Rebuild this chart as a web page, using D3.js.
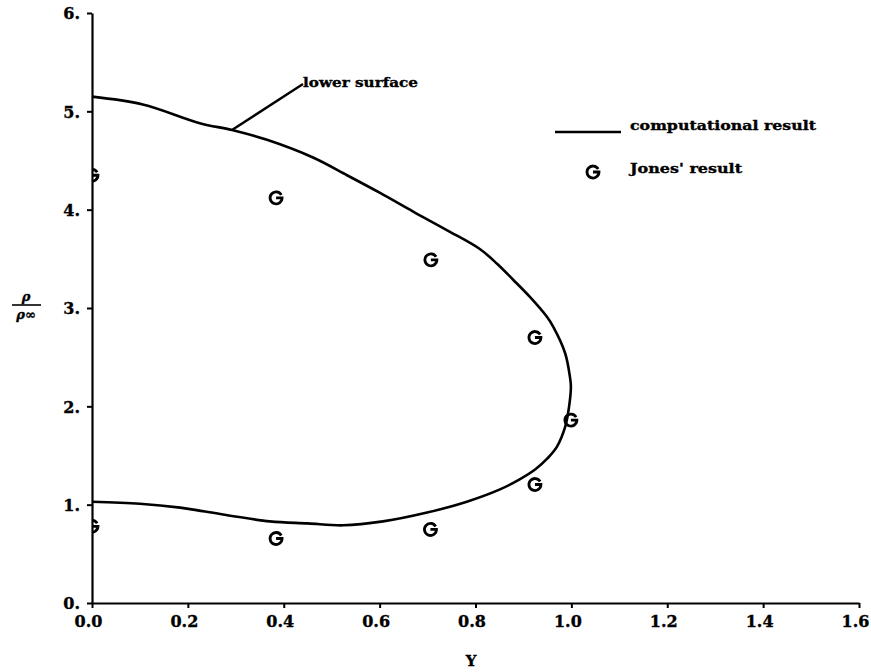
<!DOCTYPE html>
<html>
<head>
<meta charset="utf-8">
<script src="https://cdn.jsdelivr.net/npm/d3@7"></script>
<style>
  html, body { margin: 0; padding: 0; background: #fff; }
  svg { display: block; }
  text { font-family: "DejaVu Serif", "Liberation Serif", serif; font-weight: bold; fill: #000; stroke: #000; stroke-width: 0.35px; }
</style>
</head>
<body>
<svg id="chart" width="871" height="672"></svg>
<script>
// Computed density ratio along the surface (closed loop: upper branch, nose, lower branch)
const curveY   = [0.000, 0.106, 0.225, 0.292, 0.365, 0.461, 0.532, 0.601, 0.670, 0.741, 0.809, 0.845, 0.878, 0.914, 0.949, 0.962, 0.987, 0.997, 0.999, 0.995, 0.987, 0.970, 0.950, 0.925, 0.893, 0.851, 0.782, 0.699, 0.607, 0.524, 0.450, 0.371, 0.236, 0.184, 0.100, 0.000];
const curveRho = [5.15, 5.07, 4.88, 4.81, 4.71, 4.53, 4.35, 4.17, 3.98, 3.79, 3.60, 3.45, 3.29, 3.11, 2.91, 2.81, 2.54, 2.30, 2.20, 1.99, 1.79, 1.59, 1.47, 1.36, 1.26, 1.155, 1.03, 0.92, 0.83, 0.79, 0.81, 0.83, 0.93, 0.97, 1.01, 1.03];

// Jones' reference values
const jonesY   = [0.000, 0.384, 0.707, 0.924, 0.999, 0.924, 0.706, 0.384, 0.000];
const jonesRho = [4.35, 4.12, 3.49, 2.70, 1.86, 1.205, 0.748, 0.656, 0.78];

const xTicks = [0, 0.2, 0.4, 0.6, 0.8, 1.0, 1.2, 1.4, 1.6];
const yTicks = [0, 1, 2, 3, 4, 5, 6];

const svg = d3.select("#chart");
const x = d3.scaleLinear().domain([0, 1.6]).range([92, 859]);
const y = d3.scaleLinear().domain([0, 6]).range([603, 13]);

// Clip for the plot area so symbols on the axis show only their inner half
svg.append("defs").append("clipPath").attr("id", "plotClip")
  .append("rect").attr("x", x(0)).attr("y", 0).attr("width", 800).attr("height", 672);

// Axes
const xAxis = svg.append("g").attr("transform", `translate(0,${y(0)})`)
  .call(d3.axisBottom(x).tickValues(xTicks).tickFormat(d3.format(".1f")).tickSizeInner(5).tickSizeOuter(0).tickPadding(8));
const yAxis = svg.append("g").attr("transform", `translate(${x(0)},0)`)
  .call(d3.axisLeft(y).tickValues(yTicks).tickFormat(d => d + ".").tickSizeInner(5).tickSizeOuter(0).tickPadding(7));
[xAxis, yAxis].forEach(g => {
  g.select(".domain").attr("stroke", "#000").attr("stroke-width", 2.2);
  g.selectAll(".tick line").attr("stroke", "#000").attr("stroke-width", 2);
  g.selectAll(".tick text").attr("font-size", 16).attr("font-family", "DejaVu Serif").attr("font-weight", "bold").attr("fill", "#000");
});
xAxis.selectAll(".tick text").attr("dx", -4);
yAxis.selectAll(".tick text").attr("dy", "0.36em");

// Axis titles
svg.append("text").attr("x", 471).attr("y", 666)
  .attr("text-anchor", "middle").attr("font-size", 15).text("Y");

const yLab = svg.append("g").attr("transform", "translate(26,305)");
yLab.append("text").attr("x", 0).attr("y", -4).attr("text-anchor", "middle")
  .attr("font-size", 13).attr("font-style", "italic").text("ρ");
yLab.append("line").attr("x1", -14).attr("x2", 15).attr("y1", 0).attr("y2", 0)
  .attr("stroke", "#000").attr("stroke-width", 1.6);
yLab.append("text").attr("x", 0).attr("y", 14).attr("text-anchor", "middle")
  .attr("font-size", 13).attr("font-style", "italic").text("ρ∞");

// Computed curve
const pts = curveY.map((v, i) => [v, curveRho[i]]);
svg.append("path")
  .datum(pts)
  .attr("fill", "none").attr("stroke", "#000").attr("stroke-width", 2.6)
  .attr("stroke-linejoin", "round")
  .attr("d", d3.line().x(d => x(d[0])).y(d => y(d[1])).curve(d3.curveCatmullRom.alpha(0.5)));

// "G"-shaped symbol: open circle with a bar from the right edge to the centre
function gSymbol(cx, cy, r) {
  const a0 = -Math.PI / 6;
  const p = d3.path();
  p.moveTo(cx + r * Math.cos(a0), cy + r * Math.sin(a0));
  p.arc(cx, cy, r, a0, -2 * Math.PI, true);
  p.lineTo(cx, cy);
  return p.toString();
}

svg.append("g").attr("clip-path", "url(#plotClip)")
  .selectAll("path").data(jonesY.map((v, i) => [v, jonesRho[i]]))
  .join("path")
  .attr("d", d => gSymbol(x(d[0]), y(d[1]), 6))
  .attr("fill", "none").attr("stroke", "#000").attr("stroke-width", 2.8);

// Annotation
const ann = [0.292, 4.81];
svg.append("line")
  .attr("x1", x(ann[0])).attr("y1", y(ann[1]))
  .attr("x2", 303).attr("y2", 84)
  .attr("stroke", "#000").attr("stroke-width", 2.4);
svg.append("text").attr("x", 303).attr("y", 87).attr("font-size", 13)
  .attr("textLength", 115).attr("lengthAdjust", "spacingAndGlyphs").text("lower surface");

// Legend
svg.append("line").attr("x1", 555).attr("x2", 621).attr("y1", 132).attr("y2", 132)
  .attr("stroke", "#000").attr("stroke-width", 2.6);
svg.append("text").attr("x", 630).attr("y", 130).attr("font-size", 13)
  .attr("textLength", 186).attr("lengthAdjust", "spacingAndGlyphs").text("computational result");
svg.append("path").attr("d", gSymbol(593, 172, 6))
  .attr("fill", "none").attr("stroke", "#000").attr("stroke-width", 2.8);
svg.append("text").attr("x", 630).attr("y", 173).attr("font-size", 13)
  .attr("textLength", 112).attr("lengthAdjust", "spacingAndGlyphs").text("Jones' result");
</script>
</body>
</html>
